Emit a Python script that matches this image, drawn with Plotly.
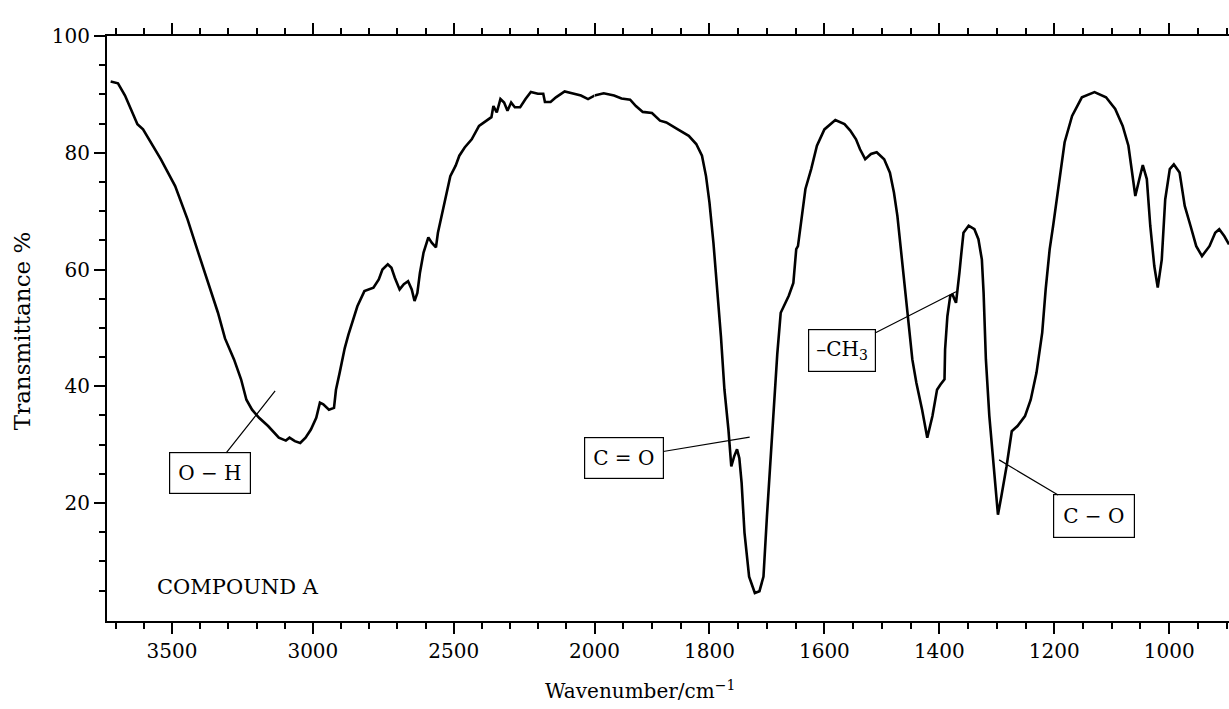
import plotly.graph_objects as go

# ---- data: IR spectrum of COMPOUND A (wavenumber / cm^-1, transmittance %) ----
wn_high = [3718, 3692, 3667, 3623, 3603, 3540, 3489, 3445, 3407, 3375, 3337, 3312,
           3280, 3255, 3236, 3216, 3191, 3159, 3121, 3096, 3083, 3064, 3045, 3026,
           3007, 2988, 2975, 2963, 2943, 2925, 2918, 2905, 2887, 2874, 2861, 2842,
           2817, 2785, 2766, 2753, 2734, 2721, 2709, 2692, 2677, 2662, 2649, 2639,
           2629, 2620, 2607, 2590, 2578, 2563, 2556, 2543, 2531, 2518, 2512, 2493,
           2480, 2461, 2436, 2410, 2385, 2366, 2359, 2347, 2334, 2321, 2309, 2296,
           2283, 2264, 2245, 2226, 2201, 2182, 2176, 2156, 2137, 2106, 2080, 2048,
           2023, 2000]
t_high = [92.2, 91.9, 89.8, 84.9, 84.0, 78.9, 74.3, 68.6, 62.9, 58.3, 52.6, 48.2,
          44.6, 41.2, 37.7, 36.0, 34.6, 33.2, 31.2, 30.7, 31.2, 30.6, 30.3, 31.2,
          32.6, 34.6, 37.2, 36.9, 36.0, 36.3, 39.4, 42.3, 46.5, 48.8, 50.9, 53.7,
          56.3, 56.9, 58.3, 60.0, 60.9, 60.3, 58.6, 56.6, 57.5, 58.0, 56.6, 54.6,
          56.0, 59.4, 62.9, 65.5, 64.6, 63.8, 66.3, 69.2, 72.0, 74.3, 76.0, 77.8,
          79.5, 80.9, 82.3, 84.6, 85.5, 86.1, 88.0, 86.9, 89.2, 88.6, 87.2, 88.6,
          87.8, 87.8, 89.2, 90.4, 90.1, 90.1, 88.7, 88.7, 89.5, 90.5, 90.2, 89.8,
          89.2, 89.8]

wn_low = [2000, 1984, 1966, 1953, 1938, 1928, 1916, 1900, 1886, 1875, 1855, 1836,
          1823, 1813, 1806, 1800, 1793, 1787, 1780, 1774, 1767, 1762, 1757, 1752,
          1748, 1744, 1739, 1731, 1721, 1713, 1706, 1700, 1693, 1689, 1682, 1676,
          1669, 1662, 1654, 1649, 1646, 1640, 1633, 1623, 1613, 1600, 1581, 1565,
          1555, 1545, 1538, 1529, 1519, 1509, 1496, 1486, 1479, 1473, 1466, 1460,
          1453, 1447, 1440, 1430, 1421, 1412, 1404, 1398, 1391, 1390, 1386, 1381,
          1377, 1371, 1368, 1365, 1362, 1358, 1349, 1339, 1332, 1326, 1323, 1319,
          1313, 1306, 1301, 1298, 1292, 1283, 1274, 1264, 1251, 1241, 1231, 1221,
          1215, 1208, 1202, 1192, 1182, 1169, 1152, 1130, 1110, 1094, 1081, 1071,
          1064, 1059, 1052, 1046, 1039, 1033, 1026, 1020, 1013, 1007, 999, 992,
          982, 973, 963, 953, 943, 930, 920, 913, 904, 896]
t_low = [89.8, 90.2, 89.8, 89.3, 89.1, 88.0, 87.0, 86.8, 85.5, 85.2, 84.0, 82.9,
         81.5, 79.5, 76.0, 71.5, 64.5, 57.5, 48.5, 39.5, 32.6, 26.3, 28.0, 29.2,
         27.7, 23.4, 14.9, 7.4, 4.6, 4.9, 7.4, 17.7, 29.2, 36.0, 45.5, 52.6,
         54.0, 55.5, 57.7, 63.5, 64.0, 68.6, 73.8, 77.2, 81.2, 84.0, 85.6, 84.9,
         83.8, 82.3, 80.6, 78.9, 79.8, 80.1, 78.9, 76.6, 73.2, 69.2, 62.9, 57.2,
         50.3, 44.6, 40.6, 36.0, 31.2, 34.9, 39.4, 40.3, 41.2, 46.3, 52.0, 55.5,
         55.7, 54.3, 56.6, 59.5, 62.5, 66.3, 67.5, 66.9, 65.2, 61.7, 56.0, 44.6,
         34.9, 26.3, 20.6, 18.0, 21.2, 26.3, 32.3, 33.2, 34.9, 37.7, 42.3, 49.2,
         56.6, 63.5, 67.5, 74.3, 81.8, 86.3, 89.5, 90.4, 89.5, 87.5, 84.6, 81.2,
         76.6, 72.6, 75.5, 77.9, 75.5, 67.5, 60.6, 56.9, 61.7, 72.0, 77.2, 78.0,
         76.6, 70.9, 67.5, 64.0, 62.3, 64.0, 66.3, 66.9, 65.7, 64.3]

ticks_high = [3500, 3000, 2500, 2000]
minor_high = [3700, 3600, 3400, 3300, 3200, 3100, 2900, 2800, 2700, 2600,
              2400, 2300, 2200, 2100]
ticks_low = [1800, 1600, 1400, 1200, 1000]
minor_low = [1950, 1900, 1850, 1750, 1700, 1650, 1550, 1500, 1450, 1350,
             1300, 1250, 1150, 1100, 1050, 950, 900]
ticks_y = [20, 40, 60, 80, 100]
minor_y = [5, 10, 15, 25, 30, 35, 45, 50, 55, 65, 70, 75, 85, 90, 95]

FONT = "DejaVu Serif"
split = 0.4345

fig = go.Figure()
fig.add_trace(go.Scatter(x=wn_high, y=t_high, mode="lines", xaxis="x", yaxis="y",
                         line=dict(color="black", width=2.6), hoverinfo="skip"))
fig.add_trace(go.Scatter(x=wn_low, y=t_low, mode="lines", xaxis="x2", yaxis="y",
                         line=dict(color="black", width=2.6), hoverinfo="skip"))

axis_common = dict(showgrid=False, zeroline=False, showline=True, linecolor="black",
                   linewidth=2, ticks="outside", tickcolor="black", tickwidth=1.5,
                   ticklen=11, mirror="ticks", automargin=False,
                   tickfont=dict(family=FONT, size=20, color="black"))

fig.update_layout(
    template="none",
    width=1229, height=709,
    margin=dict(l=107, r=0, t=36, b=88, pad=0, autoexpand=False),
    paper_bgcolor="white", plot_bgcolor="white",
    showlegend=False,
    font=dict(family=FONT, size=20, color="black"),
    xaxis=dict(domain=[0, split], range=[3731, 2000], anchor="y",
               tickmode="array", tickvals=ticks_high,
               ticktext=[str(v) for v in ticks_high],
               minor=dict(tickmode="array", tickvals=minor_high, ticks="outside",
                          ticklen=6, tickwidth=1.5, tickcolor="black"),
               **axis_common),
    xaxis2=dict(domain=[split, 1], range=[2000, 896], anchor="y",
                tickmode="array", tickvals=ticks_low,
                ticktext=[str(v) for v in ticks_low],
                minor=dict(tickmode="array", tickvals=minor_low, ticks="outside",
                           ticklen=6, tickwidth=1.5, tickcolor="black"),
                **axis_common),
    yaxis=dict(range=[-0.2, 100], anchor="x", showgrid=False, zeroline=False,
               showline=True, linecolor="black", linewidth=2, ticks="outside",
               tickcolor="black", tickwidth=1.5, ticklen=11, automargin=False,
               tickmode="array", tickvals=ticks_y,
               ticktext=[str(v) for v in ticks_y],
               minor=dict(tickmode="array", tickvals=minor_y, ticks="outside",
                          ticklen=6, tickwidth=1.5, tickcolor="black"),
               tickfont=dict(family=FONT, size=20, color="black")),
)

box = dict(showarrow=True, arrowhead=0, arrowwidth=1.2, arrowcolor="black",
           bordercolor="black", borderwidth=1.2, bgcolor="white",
           font=dict(family=FONT, size=20, color="black"), standoff=0)

fig.add_annotation(text="O − H", xref="x", yref="y", x=3134, y=39.2,
                   axref="x", ayref="y", ax=3365, ay=25.1, borderpad=8, **box)
fig.add_annotation(text="C = O", xref="x2", yref="y", x=1730, y=31.3,
                   axref="x2", ayref="y", ax=1949, ay=27.7, borderpad=8, **box)
fig.add_annotation(text="–CH<sub>3</sub>", xref="x2", yref="y", x=1371, y=56.2,
                   axref="x2", ayref="y", ax=1570, ay=46.2, borderpad=7, **box)
fig.add_annotation(text="C − O", xref="x2", yref="y", x=1296, y=27.4,
                   axref="x2", ayref="y", ax=1131, ay=17.7, borderpad=9, **box)

fig.add_annotation(text="COMPOUND A", xref="x", yref="y", x=3560, y=5.6,
                   xanchor="left", yanchor="middle", showarrow=False,
                   font=dict(family=FONT, size=21, color="black"))

fig.add_annotation(text="Wavenumber/cm<sup>−1</sup>", xref="paper", yref="paper",
                   x=0.475, y=-0.118, xanchor="center", yanchor="middle",
                   showarrow=False, font=dict(family=FONT, size=20, color="black"))
fig.add_annotation(text="Transmittance %", xref="paper", yref="paper",
                   x=-0.0758, y=0.497, xanchor="center", yanchor="middle",
                   textangle=-90, showarrow=False,
                   font=dict(family=FONT, size=23, color="black"))

fig.write_html(
    "out.html",
    config={"displayModeBar": False},
    post_script="document.body.style.margin='0';document.body.style.overflow='hidden';",
)
